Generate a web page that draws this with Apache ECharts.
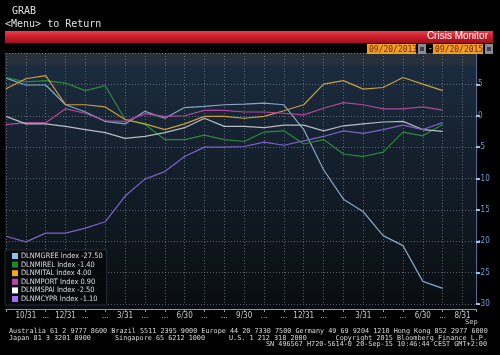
<!DOCTYPE html>
<html>
<head>
<meta charset="utf-8">
<script src="https://cdn.jsdelivr.net/npm/echarts@6/dist/echarts.min.js"></script>
<style>
html,body{margin:0;padding:0;background:#000;}
#c{width:500px;height:355px;}
</style>
</head>
<body>
<div id="c"></div>
<script>
// ---- data ----
const xLabels = ['', '10/31', '...', '12/31', '...', '...', '3/31', '...', '...', '6/30', '...', '...',
  '9/30', '...', '...', '12/31', '...', '...', '3/31', '...', '...', '6/30', '...', '8/31'];
const yTickLabels = ['5', '0', '-5', '-10', '-15', '-20', '-25', '-30'];
const seriesNames = ['DLNMGREE Index', 'DLNMIREL Index', 'DLNMITAL Index', 'DLNMPORT Index', 'DLNMSPAI Index', 'DLNMCYPR Index'];
const greece   = [6.0, 4.9, 4.9, 1.75, 0.6, -0.9, -1.3, 0.7, -0.4, 1.3, 1.5, 1.75, 1.85, 2.0, 1.75, -2.2, -8.6, -13.3, -15.3, -19.1, -20.7, -26.4, -27.5];
const ireland  = [6.1, 5.4, 5.6, 5.2, 4.0, 4.8, -0.6, -1.4, -3.8, -3.8, -3.1, -3.8, -4.1, -2.6, -2.4, -4.5, -3.8, -6.1, -6.5, -5.8, -2.6, -3.2, -1.4];
const italy    = [4.3, 5.9, 6.4, 1.75, 1.75, 1.4, -0.6, -1.3, -2.2, -1.3, -0.1, -0.1, -0.4, -0.1, 0.8, 1.75, 5.05, 5.6, 4.25, 4.5, 6.1, 5.05, 4.0];
const portugal = [-1.4, -1.1, -1.1, 1.1, 0.4, -0.8, -0.9, 0.3, -0.1, 0.0, 0.85, 0.85, 0.6, 0.6, 0.4, 0.15, 1.2, 2.1, 1.75, 1.1, 1.1, 1.4, 0.9];
const spain    = [-0.1, -1.3, -1.3, -1.7, -2.2, -2.7, -3.6, -3.3, -2.7, -1.9, -0.4, -1.7, -1.7, -1.9, -1.5, -1.5, -2.4, -1.6, -1.3, -1.0, -0.9, -2.2, -2.5];
const cyprus   = [-19.2, -20.1, -18.7, -18.7, -17.9, -16.9, -12.8, -10.1, -8.9, -6.5, -5.0, -5.0, -4.9, -4.2, -4.7, -4.0, -3.3, -2.4, -2.8, -2.2, -1.5, -2.2, -1.1];

// ---- styles ----
const allData = [greece, ireland, italy, portugal, spain, cyprus];
const lineColors = ['#86a6c6', '#2a8a3a', '#c8a040', '#b0489a', '#b8bcc2', '#7c62c8'];
const iconColors = ['#8ec0f0', '#1a8a22', '#f0a818', '#c040b0', '#ffffff', '#a070f0'];
const mono = "'DejaVu Sans Mono', monospace";
const narrow = "'Liberation Sans Narrow', 'DejaVu Sans Condensed', 'Liberation Sans', sans-serif";

const chart = echarts.init(document.getElementById('c'), null, {renderer: 'canvas'});

const series = seriesNames.map((n, k) => ({
  name: n,
  type: 'line',
  symbol: 'none',
  data: allData[k].map((v, i) => [i, v]),
  itemStyle: {color: iconColors[k]},
  lineStyle: {color: lineColors[k], width: 1.2},
  z: 3 + k
}));

const option = {
  backgroundColor: '#000000',
  animation: false,
  grid: {left: 6, right: 24, top: 53, bottom: 51},
  xAxis: {
    type: 'value', min: 0, max: 23.68, interval: 1,
    offset: 5,
    axisLine: {show: true, onZero: false, lineStyle: {color: '#9098a0', width: 1}},
    axisTick: {show: true, length: 3, inside: false, lineStyle: {color: '#9098a0'}},
    axisLabel: {
      color: '#c8c8c8', fontSize: 8, fontFamily: narrow, margin: 3,
      formatter: v => (Number.isInteger(v) && xLabels[v] !== undefined) ? xLabels[v] : ''
    },
    splitLine: {show: true, lineStyle: {color: 'rgba(150,160,172,0.55)', type: [1, 2], width: 1}}
  },
  yAxis: {
    type: 'value', position: 'right', min: -30, max: 10, interval: 5,
    axisLine: {show: true, onZero: false, lineStyle: {color: '#4e6e96', width: 1}},
    axisTick: {show: true, length: 4, lineStyle: {color: '#a8c4e4', width: 2}},
    axisLabel: {
      color: '#6c9cd8', fontSize: 8, fontFamily: narrow, margin: 2,
      formatter: v => yTickLabels.indexOf(String(v)) >= 0 ? String(v) : ''
    },
    splitLine: {show: true, lineStyle: {color: 'rgba(150,160,172,0.55)', type: [1, 2], width: 1}}
  },
  legend: {
    orient: 'vertical', left: 5, top: 250,
    padding: [2, 4, 2, 7],
    backgroundColor: 'rgba(6,9,12,0.92)',
    borderColor: '#252b33', borderWidth: 1,
    itemWidth: 6, itemHeight: 6, itemGap: 0.6,
    icon: 'rect',
    data: seriesNames.map((n, k) => ({name: n, icon: 'rect', itemStyle: {color: iconColors[k]}})),
    textStyle: {color: '#dcdcdc', fontSize: 7.4, fontFamily: narrow, lineHeight: 8, padding: [0, 0, 0, -2]},
    formatter: name => {
      const k = seriesNames.indexOf(name);
      const arr = allData[k];
      return name + ' ' + arr[arr.length - 1].toFixed(2);
    },
    selectedMode: false
  },
  graphic: [
    // plot background
    {type: 'rect', z: -10, shape: {x: 5, y: 53, width: 471, height: 257},
      style: {fill: new echarts.graphic.LinearGradient(0, 0, 0, 1, [
        {offset: 0, color: '#26313b'}, {offset: 0.045, color: '#26313b'},
        {offset: 0.05, color: '#1b2b3e'}, {offset: 0.35, color: '#15212f'},
        {offset: 0.7, color: '#0f171f'}, {offset: 1, color: '#090d11'}])}},
    // header
    {type: 'text', left: 12, top: 6, z: 100, style: {text: 'GRAB', fill: '#e0e0e0', font: '10px ' + mono}},
    {type: 'text', left: 5, top: 19, z: 100, style: {text: '<Menu> to Return', fill: '#e0e0e0', font: '10px ' + mono}},
    {type: 'rect', z: 100, shape: {x: 5, y: 31, width: 488, height: 12},
      style: {fill: new echarts.graphic.LinearGradient(0, 0, 0, 1, [
        {offset: 0, color: '#e8404c'}, {offset: 0.5, color: '#cc1c2a'}, {offset: 1, color: '#a0101c'}])}},
    {type: 'text', right: 12, top: 31.5, z: 101, style: {text: 'Crisis Monitor', fill: '#ffffff', font: '10px "Liberation Sans", sans-serif'}},
    {type: 'rect', z: 100, shape: {x: 367, y: 44, width: 49, height: 10}, style: {fill: '#f0a020'}},
    {type: 'text', left: 369, top: 45.5, z: 101, style: {text: '09/20/2013', fill: '#7a2000', font: '8px ' + mono}},
    {type: 'rect', z: 100, shape: {x: 418, y: 44, width: 8, height: 10}, style: {fill: '#8a8e94'}},
    {type: 'rect', z: 101, shape: {x: 420, y: 47, width: 4, height: 4}, style: {fill: '#3c4048'}},
    {type: 'text', left: 428, top: 44.5, z: 101, style: {text: '-', fill: '#d0d0d0', font: '8px ' + mono}},
    {type: 'rect', z: 100, shape: {x: 433, y: 44, width: 50, height: 10}, style: {fill: '#f0a020'}},
    {type: 'text', left: 435, top: 45.5, z: 101, style: {text: '09/20/2015', fill: '#7a2000', font: '8px ' + mono}},
    {type: 'rect', z: 100, shape: {x: 485, y: 44, width: 8, height: 10}, style: {fill: '#8a8e94'}},
    {type: 'rect', z: 101, shape: {x: 487, y: 47, width: 4, height: 4}, style: {fill: '#3c4048'}},
    // footer
    {type: 'text', left: 465, top: 319, z: 100, style: {text: 'Sep', fill: '#c8c8c8', font: '7px ' + mono}},
    {type: 'text', left: 9, top: 327.5, z: 100, style: {text: 'Australia 61 2 9777 8600 Brazil 5511 2395 9000 Europe 44 20 7330 7500 Germany 49 69 9204 1210 Hong Kong 852 2977 6000', fill: '#d8d8d8', font: '6.8px ' + mono}},
    {type: 'text', left: 9, top: 334.5, z: 100, style: {text: 'Japan 81 3 3201 8900', fill: '#d8d8d8', font: '6.8px ' + mono}},
    {type: 'text', left: 115, top: 334.5, z: 100, style: {text: 'Singapore 65 6212 1000', fill: '#d8d8d8', font: '6.8px ' + mono}},
    {type: 'text', left: 229, top: 334.5, z: 100, style: {text: 'U.S. 1 212 318 2000', fill: '#d8d8d8', font: '6.8px ' + mono}},
    {type: 'text', right: 13, top: 334.5, z: 100, style: {text: 'Copyright 2015 Bloomberg Finance L.P.', fill: '#d8d8d8', font: '6.8px ' + mono}},
    {type: 'text', right: 13, top: 341, z: 100, style: {text: 'SN 496567 H720-5614-0 20-Sep-15 10:46:44 CEST GMT+2:00', fill: '#d8d8d8', font: '6.8px ' + mono}}
  ],
  series: series
};
chart.setOption(option);
</script>
</body>
</html>
